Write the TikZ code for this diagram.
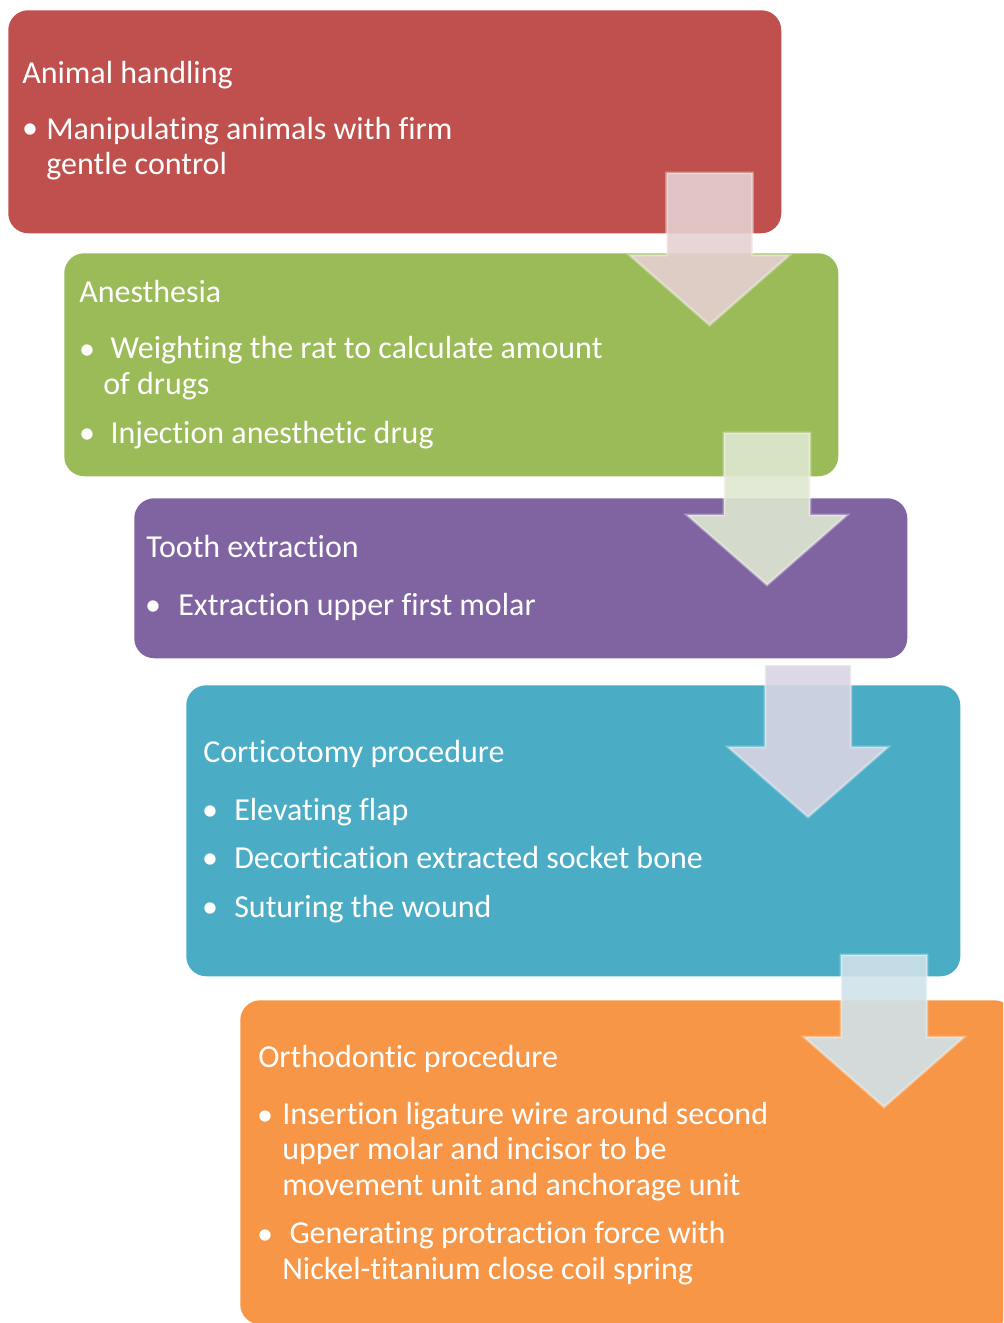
\documentclass[tikz,border=0pt]{standalone}
\usepackage{fontspec}
\setmainfont{Carlito}[RawFeature={-liga;-clig;-calt;-dlig}]
\definecolor{boxred}{HTML}{C0504D}
\definecolor{boxgreen}{HTML}{9BBB59}
\definecolor{boxpurple}{HTML}{8064A2}
\definecolor{boxblue}{HTML}{4BACC6}
\definecolor{boxorange}{HTML}{F79646}
\definecolor{arrred}{HTML}{E6D0D0}
\definecolor{arrgreen}{HTML}{DFE8D1}
\definecolor{arrpurple}{HTML}{D8D4E3}
\definecolor{arrblue}{HTML}{D0E2EA}
\tikzset{
  stage/.style={rounded corners=15pt, inner sep=0pt, anchor=north west},
  title/.style={text=white, inner sep=0pt, anchor=base west, yshift=-1.5pt,
    font=\fontsize{24}{26.5}\selectfont},
  item/.style={title, align=left},
  dot/.style={title, anchor=base}
}
\begin{document}
\begin{tikzpicture}[x=0.75pt, y=-0.75pt]
  \useasboundingbox (0,0) rectangle (1003,1323);
  \clip (0,0) rectangle (1003,1323);
  % the five stage boxes, stepping down to the right
  \node[stage, fill=boxred, minimum width=579.75pt, minimum height=167.25pt] (handling) at (8,10) {};
  \node[stage, fill=boxgreen, minimum width=580.5pt, minimum height=167.25pt] (anesthesia) at (64,253) {};
  \node[stage, fill=boxpurple, minimum width=579.75pt, minimum height=120pt] (extraction) at (134,498) {};
  \node[stage, fill=boxblue, minimum width=580.5pt, minimum height=218.25pt] (corticotomy) at (186,685) {};
  \node[stage, fill=boxorange, minimum width=580.5pt, minimum height=243pt] (orthodontic) at (240,1000) {};
  % block arrows between the boxes: centre x, top y, colour
  \foreach \cx/\ty/\col in {709.5/173/arrred, 767/433/arrgreen, 808/665/arrpurple, 884/955/arrblue} {
    \filldraw[fill=\col, fill opacity=0.9, draw=white, draw opacity=0.35, line width=2pt, line join=miter]
      (\cx-43,\ty) -- (\cx+43,\ty) -- (\cx+43,\ty+82) -- (\cx+80,\ty+82) -- (\cx,\ty+152)
      -- (\cx-80,\ty+82) -- (\cx-43,\ty+82) -- cycle;
  }
  % stage 1 (multi-line items sit on their last baseline)
  \node[title] (t1) at (22,82) {Animal handling};
  \node[dot] (d1a) at (30,137) {•};
  \node[item] (i1a) at (46,173) {Manipulating animals with firm\\gentle control};
  % stage 2
  \node[title] (t2) at (79,300) {Anesthesia};
  \node[dot] (d2a) at (87,357) {•};
  \node[item] (i2a) at (103,392) {\ Weighting the rat to calculate amount\\of drugs};
  \node[dot] (d2b) at (87,441) {•};
  \node[item] (i2b) at (103,441) {\ Injection anesthetic drug};
  % stage 3
  \node[title] (t3) at (146,555) {Tooth extraction};
  \node[dot] (d3a) at (153,613) {•};
  \node[item] (i3a) at (178,613) {Extraction upper first molar};
  % stage 4
  \node[title] (t4) at (203,760) {Corticotomy procedure};
  \node[dot] (d4a) at (210,818) {•};
  \node[item] (i4a) at (234,818) {Elevating flap};
  \node[dot] (d4b) at (210,866) {•};
  \node[item] (i4b) at (234,866) {Decortication extracted socket bone};
  \node[dot] (d4c) at (210,915) {•};
  \node[item] (i4c) at (234,915) {Suturing the wound};
  % stage 5
  \node[title] (t5) at (258,1065) {Orthodontic procedure};
  \node[dot] (d5a) at (265,1123) {•};
  \node[item] (i5a) at (282,1193) {Insertion ligature wire around second\\upper molar and incisor to be\\movement unit and anchorage unit};
  \node[dot] (d5b) at (265,1242) {•};
  \node[item] (i5b) at (282,1277) {\ Generating protraction force with\\Nickel-titanium close coil spring};
\end{tikzpicture}
\end{document}
